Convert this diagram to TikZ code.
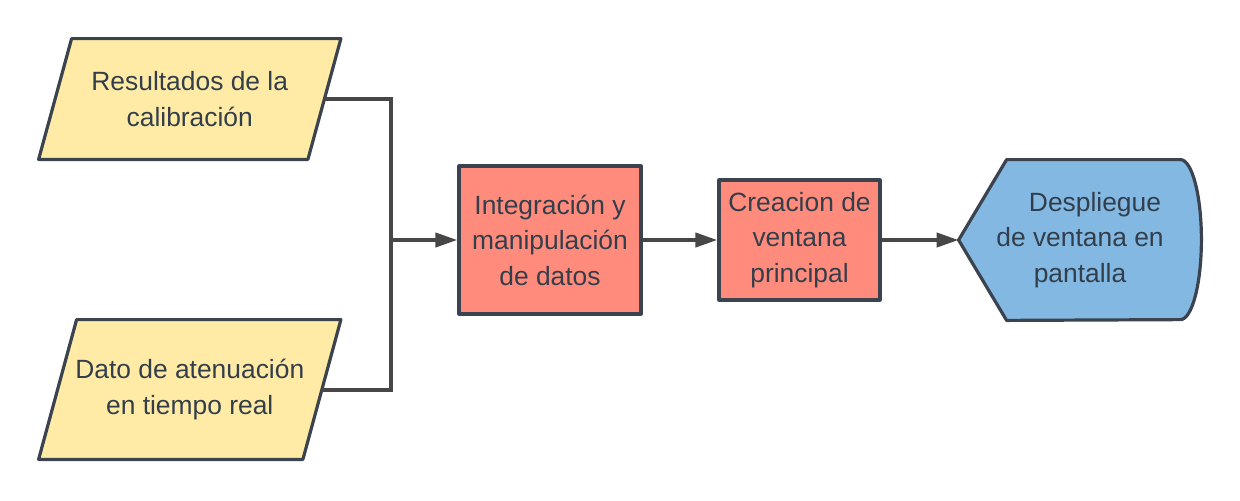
\documentclass[tikz,border=0pt]{standalone}
\usepackage{fontspec}
\setmainfont{Liberation Sans}
\usetikzlibrary{arrows.meta,positioning,backgrounds}
\definecolor{bord}{HTML}{3A434E}
\definecolor{linea}{HTML}{474747}
\definecolor{letra}{HTML}{333E4B}
\definecolor{amarillo}{HTML}{FFEBA5}
\definecolor{salmon}{HTML}{FF8B7C}
\definecolor{azul}{HTML}{83B8E3}
\tikzset{
  txt/.style={text=letra, font=\fontsize{13.2}{17.75}\selectfont, align=center, inner sep=2pt},
  forma/.style={draw=bord, line width=1.6pt, line join=round},
  proceso/.style={txt, forma, fill=salmon, rectangle},
  flecha/.style={draw=linea, line width=2pt, -{Triangle[length=11pt,width=7pt]}},
  linea/.style={draw=linea, line width=2pt}
}
\begin{document}
\begin{tikzpicture}[x=0.5pt, y=-0.5pt]
  \useasboundingbox (0,0) rectangle (1240,500);
  \node[txt, minimum width=134.25pt, minimum height=60pt] (res) at (189.75,99)
    {Resultados de la\\calibración};
  \node[txt, minimum width=131.75pt, minimum height=69.5pt] (dat) at (189.75,389.5)
    {Dato de atenuación\\en tiempo real};
  \node[proceso, minimum width=91pt, minimum height=74pt] (integ) at (550,240)
    {Integración y\\manipulación\\de datos};
  \node[proceso, minimum width=80.5pt, minimum height=60pt] (crea) at (799.5,240)
    {Creacion de\\ventana\\principal};
  \node[txt, minimum width=121pt, minimum height=80pt] (desp) at (1080,240)
    {\hspace*{15pt}Despliegue\\de ventana en\\pantalla};
  \begin{scope}[on background layer]
    % entradas (paralelogramos)
    \foreach \n/\s in {res/8.25pt, dat/9.5pt}
      \draw[forma, fill=amarillo] ([xshift=\s]\n.north west) -- ([xshift=\s]\n.north east)
        -- ([xshift=-\s]\n.south east) -- ([xshift=-\s]\n.south west) -- cycle;
    % despliegue
    \draw[forma, fill=azul] (desp.west)
      -- ([xshift=24pt]desp.north west) -- ([xshift=-10.5pt]desp.north east)
      arc[start angle=90, end angle=-90, x radius=10.5pt, y radius=40pt]
      -- ([xshift=24pt]desp.south west) -- cycle;
  \end{scope}
  \coordinate (mrg) at (391,240);
  \draw[linea] (res.east) -| (mrg);
  \draw[linea] (dat.east) -| (mrg);
  \draw[flecha] (mrg) -- (integ);
  \draw[flecha] (integ) -- (crea);
  \draw[flecha] (crea) -- (desp);
\end{tikzpicture}
\end{document}
